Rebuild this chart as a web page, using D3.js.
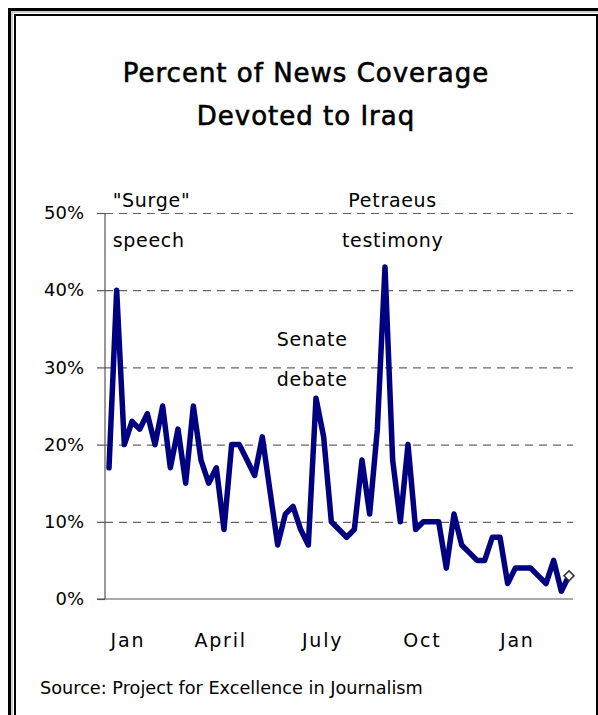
<!DOCTYPE html>
<html>
<head>
<meta charset="utf-8">
<script src="https://cdn.jsdelivr.net/npm/d3@7"></script>
<style>
  html, body { margin: 0; padding: 0; background: #fff; }
  svg { display: block; }
  text { font-family: "DejaVu Sans", "Noto Sans", sans-serif; fill: #000; }
</style>
</head>
<body>
<svg id="chart" width="598" height="715"></svg>
<script>
// ---- data ----
const titleLines = ["Percent of News Coverage", "Devoted to Iraq"];
const coverage = [17, 40, 20, 23, 22, 24, 20, 25, 17, 22, 15, 25, 18, 15, 17, 9, 20, 20, 18, 16,
                  21, 14, 7, 11, 12, 9, 7, 26, 21, 10, 9, 8, 9, 18, 11, 22, 43, 18, 10, 20,
                  9, 10, 10, 10, 4, 11, 7, 6, 5, 5, 8, 8, 2, 4, 4, 4, 3, 2, 5, 1, 3];
const monthLabels = ["Jan", "April", "July", "Oct", "Jan"];
const monthWeeks = [2.4, 14.5, 27.8, 40.8, 53.2];
const yTicks = [0, 10, 20, 30, 40, 50];
const annotations = [
  { lines: ["\"Surge\"", "speech"], week: 1, value: 50, anchor: "start" },
  { lines: ["Senate", "debate"], week: 26.5, value: 32, anchor: "middle" },
  { lines: ["Petraeus", "testimony"], week: 37, value: 50, anchor: "middle" }
];
const sourceText = "Source: Project for Excellence in Journalism";

// ---- layout ----
const svg = d3.select("#chart");
const x = d3.scaleLinear().domain([0, coverage.length - 1]).range([109, 569]);
const y = d3.scaleLinear().domain([0, 50]).range([599, 213]);
const axisX = 105, gridRight = 573;

// frame
svg.append("rect").attr("x", 9.5).attr("y", 9.5).attr("width", 640).attr("height", 760)
  .attr("fill", "none").attr("stroke", "#000").attr("stroke-width", 3);
svg.append("rect").attr("x", 12).attr("y", 12).attr("width", 640).attr("height", 760)
  .attr("fill", "none").attr("stroke", "#999").attr("stroke-width", 1);
svg.append("rect").attr("x", 15).attr("y", 15).attr("width", 582).attr("height", 760)
  .attr("fill", "#fff").attr("stroke", "#000").attr("stroke-width", 2);

// title
svg.append("g").selectAll("text").data(titleLines).join("text")
  .attr("x", 306).attr("y", (d, i) => 82 + i * 43)
  .attr("text-anchor", "middle")
  .style("font-size", "26px").style("letter-spacing", "1px")
  .attr("stroke", "#000").attr("stroke-width", 0.6)
  .text(d => d);

// gridlines
const grid = svg.append("g").attr("transform", `translate(${axisX},0)`)
  .call(d3.axisLeft(y).tickValues(yTicks.filter(t => t > 0)).tickSize(-(gridRight - axisX)).tickFormat(""));
grid.select(".domain").remove();
grid.selectAll(".tick line").attr("stroke", "#666").attr("stroke-width", 1.2).attr("stroke-dasharray", "8,6");

// y axis
const yAxis = svg.append("g").attr("transform", `translate(${axisX},0)`)
  .call(d3.axisLeft(y).tickValues(yTicks).tickSize(8).tickPadding(13).tickFormat(d => d + "%"));
yAxis.select(".domain").attr("stroke", "#555").attr("stroke-width", 1.2)
  .attr("d", `M0,${y(50)}V${y(0)}`);
yAxis.selectAll(".tick line").attr("stroke", "#555").attr("stroke-width", 1.2);
yAxis.selectAll(".tick text").style("font-size", "18px").style("font-family", "DejaVu Sans").attr("fill", "#000");

// baseline
svg.append("line").attr("x1", axisX - 8).attr("x2", gridRight).attr("y1", y(0)).attr("y2", y(0))
  .attr("stroke", "#555").attr("stroke-width", 1.2);

// x labels
const xAxis = svg.append("g").attr("transform", `translate(0,${y(0)})`)
  .call(d3.axisBottom(x).tickValues(monthWeeks).tickSize(0).tickPadding(35)
        .tickFormat((d, i) => monthLabels[i]));
xAxis.select(".domain").remove();
xAxis.selectAll(".tick text").style("font-size", "19px").style("font-family", "DejaVu Sans")
  .style("letter-spacing", "1.8px").attr("fill", "#000");

// line
const line = d3.line().x((d, i) => x(i)).y(d => y(d));
svg.append("path").datum(coverage).attr("d", line)
  .attr("fill", "none").attr("stroke", "#000080").attr("stroke-width", 5.5)
  .attr("stroke-linejoin", "round").attr("stroke-linecap", "round");

// end marker (diamond)
const last = coverage.length - 1;
svg.append("path")
  .attr("d", d3.symbol().type(d3.symbolSquare).size(50))
  .attr("transform", `translate(${x(last)},${y(coverage[last])}) rotate(45)`)
  .attr("fill", "#fff").attr("stroke", "#333").attr("stroke-width", 1.6);

// annotations
annotations.forEach(a => {
  const g = svg.append("g");
  g.selectAll("text").data(a.lines).join("text")
    .attr("x", x(a.week) + (a.anchor === "start" ? -4 : 0))
    .attr("y", (d, i) => y(a.value) - 6 + i * 40)
    .attr("text-anchor", a.anchor)
    .style("font-size", "19px").style("letter-spacing", "0.7px")
    .text(d => d);
});

// source
svg.append("text").attr("x", 40).attr("y", 694)
  .style("font-size", "17.7px").text(sourceText);
</script>
</body>
</html>
